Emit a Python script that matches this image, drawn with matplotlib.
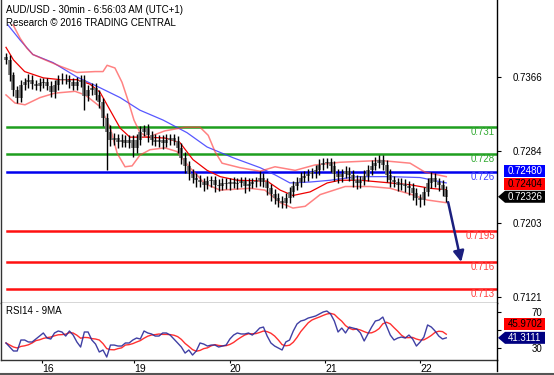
import matplotlib
matplotlib.use('Agg')
import matplotlib.pyplot as plt
import numpy as np
import pandas as pd
import matplotlib.transforms as mtransforms
from matplotlib.patches import Polygon, FancyArrowPatch
from matplotlib.lines import Line2D

plt.rcParams['font.family'] = ['Liberation Sans', 'DejaVu Sans']

# ---------------- data ----------------
title = "AUD/USD - 30min - 6:56:03 AM (UTC+1)"
subtitle = "Research \u00a9 2016 TRADING CENTRAL"
rsi_title = "RSI14 - 9MA"

first_open = 0.7388
closes = [
    0.7385, 0.7368, 0.7351, 0.7343, 0.7357, 0.7360, 0.7363, 0.7358, 0.7356, 0.7359,
    0.7360, 0.7356, 0.7349, 0.7357, 0.7363, 0.7364, 0.7363, 0.7360, 0.7356, 0.7360,
    0.7363, 0.7345, 0.7351, 0.7354, 0.7346, 0.7338, 0.7320, 0.7305, 0.7296, 0.7298,
    0.7294, 0.7296, 0.7293, 0.7296, 0.7287, 0.7296, 0.7305, 0.7309, 0.7301, 0.7296,
    0.7294, 0.7296, 0.7293, 0.7296, 0.7298, 0.7295, 0.7287, 0.7276, 0.7267, 0.7258,
    0.7254, 0.7251, 0.7249, 0.7246, 0.7250, 0.7251, 0.7246, 0.7245, 0.7248, 0.7247,
    0.7249, 0.7247, 0.7248, 0.7250, 0.7245, 0.7247, 0.7249, 0.7250, 0.7254, 0.7249,
    0.7242, 0.7236, 0.7231, 0.7228, 0.7226, 0.7231, 0.7238, 0.7245, 0.7249, 0.7254,
    0.7256, 0.7258, 0.7260, 0.7262, 0.7268, 0.7270, 0.7271, 0.7267, 0.7258, 0.7255,
    0.7258, 0.7261, 0.7257, 0.7251, 0.7248, 0.7251, 0.7256, 0.7262, 0.7267, 0.7270,
    0.7274, 0.7268, 0.7257, 0.7251, 0.7249, 0.7246, 0.7247, 0.7245, 0.7242, 0.7237,
    0.7231, 0.7229, 0.7238, 0.7248, 0.7254, 0.7249, 0.7246, 0.7240, 0.72326,
]
# wick extensions beyond the body, in pips
hi_ext = [
    5, 5, 4, 5, 6, 5, 6, 5, 5, 6,
    5, 5, 5, 6, 5, 6, 5, 5, 5, 6,
    5, 5, 6, 5, 5, 5, 5, 6, 7, 6,
    5, 6, 5, 5, 5, 6, 6, 4, 5, 5,
    6, 5, 5, 6, 5, 5, 5, 5, 6, 5,
    6, 5, 6, 5, 6, 5, 5, 6, 5, 6,
    5, 6, 6, 5, 5, 6, 5, 5, 7, 5,
    5, 5, 5, 6, 5, 6, 6, 5, 6, 6,
    5, 6, 5, 6, 7, 6, 5, 5, 5, 6,
    5, 6, 5, 5, 6, 5, 6, 6, 6, 7,
    5, 5, 5, 6, 5, 5, 6, 5, 5, 6,
    5, 5, 6, 6, 6, 5, 5, 5, 5,
]
lo_ext = [
    5, 6, 6, 6, 5, 5, 6, 5, 5, 6,
    5, 5, 5, 6, 5, 5, 5, 6, 5, 5,
    5, 16, 6, 5, 6, 7, 9, 43, 7, 6,
    7, 6, 5, 6, 10, 6, 6, 5, 7, 6,
    5, 6, 7, 5, 6, 5, 6, 7, 8, 7,
    6, 7, 6, 7, 5, 6, 8, 6, 5, 6,
    7, 5, 6, 5, 8, 6, 5, 6, 5, 6,
    7, 8, 6, 7, 6, 6, 5, 6, 5, 6,
    5, 6, 5, 6, 5, 6, 5, 7, 8, 7,
    6, 5, 7, 8, 7, 6, 5, 6, 5, 5,
    5, 6, 8, 7, 6, 7, 6, 7, 7, 8,
    8, 8, 6, 5, 6, 6, 7, 7, 6,
]
rsi = [
    35.6, 31.1, 26.7, 26.7, 38.9, 38.9, 36.7, 36.7, 40.0, 43.3,
    46.7, 41.1, 40.0, 46.7, 48.9, 47.8, 43.3, 48.9, 44.4, 36.7,
    31.1, 47.8, 47.8, 38.9, 34.4, 25.6, 27.8, 20.0, 33.3, 33.3,
    32.2, 32.2, 35.6, 35.6, 38.9, 41.1, 40.0, 48.9, 46.7, 45.6,
    43.3, 43.3, 46.7, 46.7, 44.4, 40.0, 35.6, 31.1, 24.4, 27.8,
    22.2, 26.7, 35.6, 34.4, 32.2, 33.3, 33.3, 31.1, 32.2, 33.3,
    40.0, 44.4, 46.7, 45.6, 45.6, 46.7, 44.4, 47.8, 52.2, 53.3,
    43.3, 35.6, 32.2, 30.0, 27.8, 36.7, 38.9, 48.9, 56.7, 60.0,
    61.1, 63.3, 64.4, 65.6, 67.8, 70.0, 71.1, 67.8, 60.0, 47.8,
    52.2, 46.7, 53.3, 52.2, 51.1, 46.7, 37.8, 45.6, 53.3, 60.0,
    61.1, 64.4, 54.4, 44.4, 38.9, 41.1, 42.2, 41.1, 44.4, 40.0,
    32.2, 36.7, 42.2, 55.6, 53.3, 48.9, 43.3, 40.0, 41.31,
]
rsi_box_values = [45.9702, 41.3111]   # 9MA, RSI (last values shown)

# long moving average (blue) : bar index, value
ma_idx = [0.5, 3.8, 7.2, 12.6, 19, 25.2, 30.6, 35.9, 42.1, 48.5, 53.9, 60.9,
          68.1, 72.1, 76.1, 81.5, 86.9, 94.1, 103, 111, 118]
ma_val = [0.7424, 0.7407, 0.7391, 0.7382, 0.7366, 0.7354, 0.7343, 0.7329, 0.7318,
          0.7304, 0.7288, 0.7276, 0.7265, 0.7257, 0.7248, 0.7249, 0.7251, 0.7255,
          0.7255, 0.7254, 0.72480]
# Bollinger bands
up_idx = [1.9, 3.8, 5.6, 7.2, 10.5, 14.5, 19, 23.9, 26, 27.1, 29.2, 31.1, 32.7,
          34.3, 35.9, 38.1, 42.6, 48, 52, 54.2, 56, 57.9, 62.7, 68.1, 72.1, 77.5,
          82.8, 89.5, 100.3, 108.3, 112.3, 118]
up_val = [0.7424, 0.7409, 0.7398, 0.7391, 0.7385, 0.7378, 0.7371, 0.7372, 0.7372,
          0.7379, 0.7376, 0.7360, 0.7340, 0.7318, 0.7304, 0.7299, 0.7306, 0.7310,
          0.7310, 0.7301, 0.7283, 0.7270, 0.7265, 0.7261, 0.7266, 0.7262, 0.7268,
          0.7271, 0.7273, 0.7270, 0.7260, 0.7255]
mid_idx = [0, 2, 5, 10, 14.5, 19, 22.5, 25.2, 27.9, 30.6, 33.2, 37.3, 42.6, 46.6,
           50.1, 53.9, 57.4, 61.9, 70, 73.5, 76.9, 81.5, 86.1, 89.5, 94.9, 103,
           108.3, 113.7, 118]
mid_val = [0.7399, 0.7385, 0.7372, 0.7365, 0.7363, 0.7363, 0.7358, 0.7349, 0.7329,
           0.7309, 0.7299, 0.7299, 0.7298, 0.7293, 0.7274, 0.7262, 0.7255, 0.7251,
           0.7250, 0.7240, 0.7234, 0.7238, 0.7248, 0.7251, 0.7251, 0.7248, 0.7246,
           0.7242, 0.72404]
lo_idx = [0, 2.4, 5.1, 9.1, 13.1, 18.5, 21.2, 25.2, 27.9, 29.8, 31.9, 33.8, 35.9,
          38.6, 42.6, 45.8, 49.3, 53.4, 57.4, 65.4, 69.4, 73.5, 76.9, 80.2, 84.2,
          90.9, 97.6, 103, 108.8, 112.9, 118]
lo_val = [0.7346, 0.7337, 0.7335, 0.7343, 0.7348, 0.7350, 0.7346, 0.7333, 0.7310,
          0.7281, 0.7266, 0.7267, 0.7279, 0.7285, 0.7287, 0.7283, 0.7265, 0.7247,
          0.7240, 0.7242, 0.7240, 0.7226, 0.7220, 0.7222, 0.7235, 0.7244, 0.7244,
          0.7242, 0.7235, 0.7229, 0.7226]

green_levels = [0.731, 0.728]
blue_levels = [0.726]
red_levels = [0.7195, 0.716, 0.713]
level_labels = {0.731: "0.731", 0.728: "0.728", 0.726: "0.726",
                0.7195: "0.7195", 0.716: "0.716", 0.713: "0.713"}
target_level = 0.716

price_ticks = [0.7366, 0.7284, 0.7203, 0.7121]
price_tick_labels = ["0.7366", "0.7284", "0.7203", "0.7121"]
rsi_ticks = [70, 50, 30]
rsi_tick_labels = ["70", "", "30"]
day_pos = [9.6, 34.3, 60.0, 85.5, 111.0]
day_labels = ["16", "19", "20", "21", "22"]

# ---------------- figure ----------------
W, H = 554, 375
fig = plt.figure(figsize=(W / 100, H / 100), dpi=100)
fig.patch.set_facecolor('white')

def fx(px):
    return px / W

def fy(py):
    return 1 - py / H

ax = fig.add_axes([fx(1), fy(303), fx(496), 303 / H])
ax2 = fig.add_axes([fx(1), fy(360), fx(496), 57 / H])

n = len(closes)
idx = np.arange(n)
c = np.array(closes)
o = np.array([first_open] + closes[:-1])
top = np.maximum(o, c)
bot = np.minimum(o, c)
hi = top + np.array(hi_ext) * 0.0001
lo = bot - np.array(lo_ext) * 0.0001

XL = (-1.34, 131.6)
for a in (ax, ax2):
    a.set_xlim(*XL)
ax.set_ylim(0.71143, 0.74517)
ax2.set_ylim(16.7, 80)

# level lines
for lv in green_levels:
    ax.axhline(lv, xmin=0.012, xmax=1, color='#1e9e1e', lw=1.8, zorder=2)
for lv in blue_levels:
    ax.axhline(lv, xmin=0.012, xmax=1, color='#0000ee', lw=1.8, zorder=2)
for lv in red_levels:
    ax.axhline(lv, xmin=0.012, xmax=1, color='#ff1010', lw=1.8, zorder=2)

lab_tr = mtransforms.blended_transform_factory(ax.transAxes, ax.transData)
for lv, col in ([(v, '#33aa33') for v in green_levels] +
                [(v, '#4040ff') for v in blue_levels] +
                [(v, '#ff4040') for v in red_levels]):
    ax.text(0.996, lv, level_labels[lv], transform=lab_tr, ha='right', va='top',
            fontsize=7, color=col, zorder=6)

# indicators
ax.plot(ma_idx, ma_val, color='#3a3aff', lw=0.9, alpha=0.85, zorder=3)
ax.plot(up_idx, up_val, color='#ff4040', lw=1.1, alpha=0.65, zorder=3)
ax.plot(lo_idx, lo_val, color='#ff4040', lw=1.1, alpha=0.65, zorder=3)
ax.plot(mid_idx, mid_val, color='#ee0000', lw=0.9, zorder=3)

# bars
ax.vlines(idx, bot, top, color='#7a7a7a', lw=2.7, zorder=4)
ax.vlines(idx, lo, hi, color='#000000', lw=1.0, zorder=5)

# forecast arrow
arr = FancyArrowPatch((idx[-1] + 0.5, c[-1] - 0.0006), (idx[-1] + 4.0, target_level),
                      arrowstyle='-|>', mutation_scale=16, lw=1.8, color='#1b1f7e',
                      shrinkA=0, shrinkB=0, zorder=7)
ax.add_patch(arr)

# RSI
rsi_s = pd.Series(rsi)
rsi_ma = rsi_s.rolling(5, min_periods=1).mean()
ax2.plot(idx, rsi_ma, color='#ff3030', lw=1.0, zorder=3)
ax2.plot(idx, rsi_s, color='#2b2b9a', lw=1.0, alpha=0.9, zorder=4)

# spines / ticks
for a in (ax, ax2):
    a.spines['top'].set_visible(False)
    a.spines['left'].set_color('#333333')
    a.spines['right'].set_color('black')
    a.spines['bottom'].set_color('#333333')
    for s in a.spines.values():
        s.set_linewidth(1.0)
    a.yaxis.tick_right()
    a.tick_params(axis='y', direction='out', length=3, width=0.8, pad=29.5,
                  labelsize=7, colors='black')

ax.set_yticks(price_ticks)
ax.set_yticklabels(price_tick_labels)
ax.set_xticks([])
ax2.set_yticks(rsi_ticks)
ax2.set_yticklabels(rsi_tick_labels)
for a in (ax, ax2):
    for t in a.get_yticklabels():
        t.set_horizontalalignment('right')
ax2.set_xticks(day_pos)
ax2.set_xticklabels(day_labels, ha='left')
ax2.tick_params(axis='x', direction='out', length=2.5, width=0.8, pad=0.3, labelsize=7.5)

# texts
fig.text(fx(6), fy(10), title, fontsize=7, va='center', ha='left')
fig.text(fx(6), fy(22.5), subtitle, fontsize=7, va='center', ha='left')
fig.text(fx(6), fy(311), rsi_title, fontsize=7, va='center', ha='left')

# frame lines
fig.add_artist(Line2D([fx(497), fx(497)], [fy(360), fy(371)], color='black', lw=1.0,
                      transform=fig.transFigure))
fig.add_artist(Line2D([0, 1], [fy(373.5), fy(373.5)], color='#555555', lw=1.5,
                      transform=fig.transFigure))

# value boxes (display pixel coordinates)
ident = mtransforms.IdentityTransform()

def value_box(yc, text, face, tcol, arrow=False):
    x0, x1, h = 505, 545, 12
    if arrow:
        pts = [(498, yc), (x0, yc + h / 2), (x1, yc + h / 2), (x1, yc - h / 2), (x0, yc - h / 2)]
    else:
        pts = [(x0 - 1, yc + h / 2), (x1, yc + h / 2), (x1, yc - h / 2), (x0 - 1, yc - h / 2)]
    fig.add_artist(Polygon(pts, closed=True, facecolor=face, edgecolor='none',
                           transform=ident))
    fig.text((x0 + x1) / 2 / W, yc / H, text, fontsize=7, color=tcol,
             ha='center', va='center')

fig.canvas.draw()
y_close = ax.transData.transform((0, c[-1]))[1]
value_box(y_close, f"{c[-1]:.5f}", 'black', 'white', arrow=True)
value_box(y_close + 13, f"{mid_val[-1]:.5f}", '#ff0000', 'black')
value_box(y_close + 26, f"{ma_val[-1]:.5f}", '#0000ff', 'white')

y_rsi = ax2.transData.transform((0, rsi_box_values[1]))[1]
value_box(y_rsi, f"{rsi_box_values[1]:.4f}", '#000080', 'white', arrow=True)
value_box(y_rsi + 14, f"{rsi_box_values[0]:.4f}", '#ff0000', 'black')

fig.savefig('out.png', dpi=100, facecolor='white')
